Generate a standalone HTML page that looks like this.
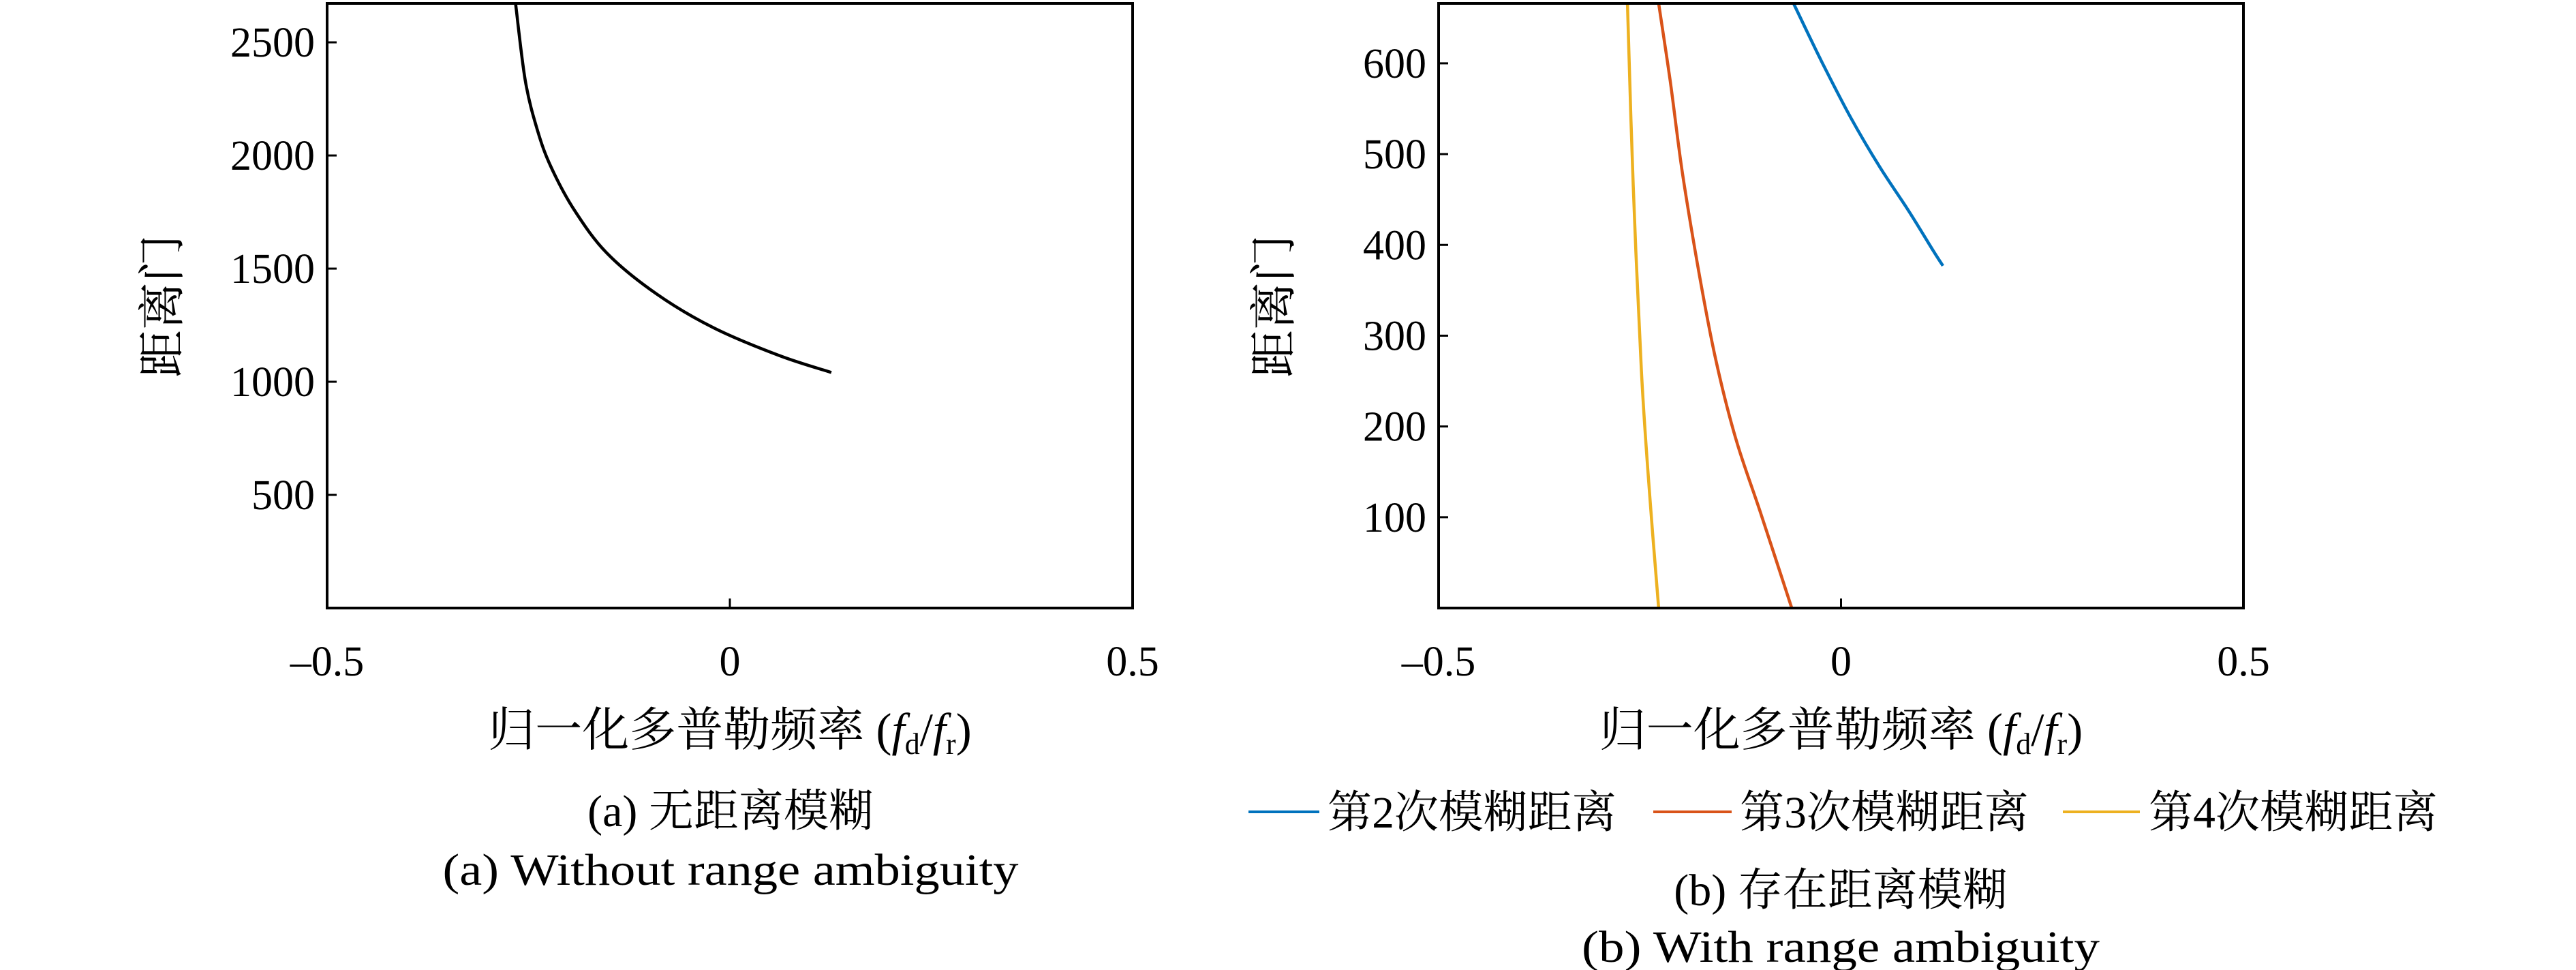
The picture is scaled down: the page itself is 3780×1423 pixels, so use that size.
<!DOCTYPE html>
<html><head><meta charset="utf-8"><style>
html,body{margin:0;padding:0;background:#fff;width:3780px;height:1423px;overflow:hidden}
svg{display:block}
text{font-family:"Liberation Serif","Noto Serif CJK SC",serif;fill:#000}
</style></head><body>
<svg id="fig" width="3780" height="1423" viewBox="0 0 3780 1423" xmlns="http://www.w3.org/2000/svg">
<g id="pa"></g>
<g id="pb"></g>
<text x="1072" y="1212" font-size="66" text-anchor="middle">(a) 无距离模糊</text>
<text x="1072" y="1298" font-size="66" text-anchor="middle" textLength="845" lengthAdjust="spacingAndGlyphs">(a) Without range ambiguity</text>
<text x="2701" y="1328" font-size="66" text-anchor="middle">(b) 存在距离模糊</text>
<text x="2701" y="1411" font-size="66" text-anchor="middle" textLength="760" lengthAdjust="spacingAndGlyphs">(b) With range ambiguity</text>
<g>
<line x1="1832" y1="1191" x2="1936" y2="1191" stroke="#0072BD" stroke-width="4"/>
<text x="1948" y="1214" font-size="66" textLength="424" lengthAdjust="spacingAndGlyphs">第2次模糊距离</text>
<line x1="2426" y1="1191" x2="2541" y2="1191" stroke="#D95319" stroke-width="4"/>
<text x="2553" y="1214" font-size="66" textLength="424" lengthAdjust="spacingAndGlyphs">第3次模糊距离</text>
<line x1="3027" y1="1191" x2="3140" y2="1191" stroke="#EDB120" stroke-width="4"/>
<text x="3153" y="1214" font-size="66" textLength="424" lengthAdjust="spacingAndGlyphs">第4次模糊距离</text>
</g>
</svg>
<script>
// Chart A data
const xTicks = [-0.5, 0, 0.5];
const xTickLabels = ['\u20130.5', '0', '0.5'];
const aYTicks = [500, 1000, 1500, 2000, 2500];
const aX = [-0.266, -0.254, -0.239, -0.222, -0.193, -0.152, -0.091, -0.020, 0.062, 0.126];
const aY = [2670, 2331, 2113, 1949, 1758, 1566, 1388, 1238, 1115, 1041];
// Chart B data
const bYTicks = [100, 200, 300, 400, 500, 600];
const b2X = [-0.059, -0.0235, 0.0122, 0.048, 0.0837, 0.1143, 0.1266];
const b2Y = [666, 601, 540, 486, 438, 394, 377];
const b3X = [-0.2266, -0.2123, -0.197, -0.1766, -0.156, -0.1306, -0.100, -0.0612];
const b3Y = [666, 581, 479, 370, 275, 186, 105, 0];
const b4X = [-0.2654, -0.2582, -0.248, -0.2378, -0.2266];
const b4Y = [666, 465, 261, 125, 0];

const NS = 'http://www.w3.org/2000/svg';
function mk(parent, tag, attrs) {
  const e = document.createElementNS(NS, tag);
  for (const k in attrs) e.setAttribute(k, attrs[k]);
  parent.appendChild(e);
  return e;
}
function smooth(pts) {
  let d = 'M' + pts[0][0].toFixed(1) + ' ' + pts[0][1].toFixed(1);
  for (let i = 0; i < pts.length - 1; i++) {
    const p0 = pts[Math.max(0, i - 1)], p1 = pts[i], p2 = pts[i + 1], p3 = pts[Math.min(pts.length - 1, i + 2)];
    const c1 = [p1[0] + (p2[0] - p0[0]) / 6, p1[1] + (p2[1] - p0[1]) / 6];
    const c2 = [p2[0] - (p3[0] - p1[0]) / 6, p2[1] - (p3[1] - p1[1]) / 6];
    d += ' C' + c1[0].toFixed(1) + ' ' + c1[1].toFixed(1) + ' ' + c2[0].toFixed(1) + ' ' + c2[1].toFixed(1) + ' ' + p2[0].toFixed(1) + ' ' + p2[1].toFixed(1);
  }
  return d;
}
function chart(g, L, R, T, B, yMax, yTicks, series) {
  const sx = v => L + (v + 0.5) / 1 * (R - L);
  const sy = v => B - v / yMax * (B - T);
  series.forEach(s => {
    const pts = s.x.map((v, i) => [sx(v), sy(s.y[i])]);
    const p = mk(g, 'path', {d: smooth(pts), fill: 'none', stroke: s.c, 'stroke-width': 4.5, 'stroke-linejoin': 'round'});
    
    
  });
  const fr = mk(g, 'rect', {x: L, y: T, width: R - L, height: B - T, fill: 'none', stroke: '#000', 'stroke-width': 4});
  
  
  yTicks.forEach(v => {
    const tk = mk(g, 'line', {x1: L, x2: L + 14, y1: sy(v), y2: sy(v), stroke: '#000', 'stroke-width': 3});
    
    
    const t = mk(g, 'text', {x: L - 18, y: sy(v) + 21, 'font-size': 62, 'text-anchor': 'end'});
    t.textContent = String(v);
    
    
  });
  xTicks.forEach((v, i) => {
    const tk = mk(g, 'line', {x1: sx(v), x2: sx(v), y1: B, y2: B - 14, stroke: '#000', 'stroke-width': 3});
    
    
    const t = mk(g, 'text', {x: sx(v), y: 991, 'font-size': 62, 'text-anchor': 'middle'});
    t.textContent = xTickLabels[i];
    
    
  });
  const cx = (L + R) / 2;
  const xl = mk(g, 'text', {x: cx, y: 1094, 'font-size': 69, 'text-anchor': 'middle'});
  xl.innerHTML = '归一化多普勒频率 (<tspan font-style="italic">f</tspan><tspan font-size="44" dy="12">d</tspan><tspan dy="-12">/</tspan><tspan font-style="italic">f</tspan><tspan font-size="44" dy="12">r</tspan><tspan dy="-12">)</tspan>';
  
  
  const ylx = L - 242;
  const yl = mk(g, 'text', {x: ylx, y: 449, 'font-size': 70, 'text-anchor': 'middle', transform: 'rotate(-90 ' + ylx + ' 449) translate(0 24)'});
  yl.textContent = '距离门';
  
  
}
chart(document.getElementById('pa'), 480, 1662, 5, 892, 2672, aYTicks,
  [{x: aX, y: aY, c: '#000', n: 'curve-no-ambiguity'}]);
chart(document.getElementById('pb'), 2111, 3292, 5, 892, 666, bYTicks,
  [{x: b2X, y: b2Y, c: '#0072BD', n: 'curve-ambiguity-2'},
   {x: b3X, y: b3Y, c: '#D95319', n: 'curve-ambiguity-3'},
   {x: b4X, y: b4Y, c: '#EDB120', n: 'curve-ambiguity-4'}]);
</script>
</body></html>
